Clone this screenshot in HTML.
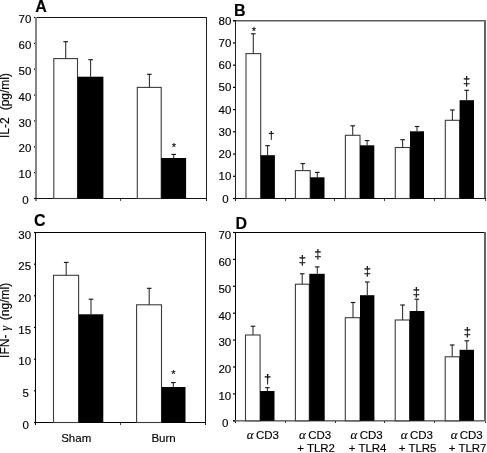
<!DOCTYPE html>
<html><head><meta charset="utf-8"><style>
html,body{margin:0;padding:0;background:#fff;width:487px;height:453px;overflow:hidden}
svg{display:block;will-change:transform}
text{font-family:"Liberation Sans", sans-serif;fill:#000;stroke:#000;stroke-width:0.15px}
</style></head><body>
<svg width="487" height="453" viewBox="0 0 487 453">
<rect x="34" y="17" width="173" height="1" fill="#111"/>
<rect x="35" y="17" width="2" height="184" fill="#858585"/>
<rect x="206" y="17" width="1" height="184" fill="#222"/>
<rect x="34" y="198" width="173" height="1" fill="#111"/>
<rect x="34" y="197.90" width="1" height="1.2" fill="#000"/>
<rect x="34" y="172.04" width="1" height="1.2" fill="#000"/>
<rect x="34" y="146.19" width="1" height="1.2" fill="#000"/>
<rect x="34" y="120.33" width="1" height="1.2" fill="#000"/>
<rect x="34" y="94.47" width="1" height="1.2" fill="#000"/>
<rect x="34" y="68.61" width="1" height="1.2" fill="#000"/>
<rect x="34" y="42.76" width="1" height="1.2" fill="#000"/>
<rect x="34" y="16.90" width="1" height="1.2" fill="#000"/>
<rect x="120" y="199" width="1" height="2" fill="#555"/>
<text x="28.7" y="204.1" font-size="11.5" font-weight="normal" text-anchor="end" >0</text>
<text x="31.3" y="178.24" font-size="11.5" font-weight="normal" text-anchor="end" >10</text>
<text x="31.3" y="152.39" font-size="11.5" font-weight="normal" text-anchor="end" >20</text>
<text x="31.3" y="126.53" font-size="11.5" font-weight="normal" text-anchor="end" >30</text>
<text x="31.3" y="100.67" font-size="11.5" font-weight="normal" text-anchor="end" >40</text>
<text x="31.3" y="74.81" font-size="11.5" font-weight="normal" text-anchor="end" >50</text>
<text x="31.3" y="48.96" font-size="11.5" font-weight="normal" text-anchor="end" >60</text>
<text x="31.3" y="23.1" font-size="11.5" font-weight="normal" text-anchor="end" >70</text>
<rect x="53.80" y="58.60" width="23.70" height="139.90" fill="#fff" stroke="#3c3c3c" stroke-width="1.1"/>
<rect x="65.15" y="41.70" width="1.1" height="16.90" fill="#333"/>
<rect x="63.40" y="41.15" width="4.6" height="1.1" fill="#111"/>
<rect x="77.50" y="76.70" width="25.90" height="121.80" fill="#000"/>
<rect x="90.05" y="59.70" width="1.1" height="17.00" fill="#333"/>
<rect x="88.30" y="59.15" width="4.6" height="1.1" fill="#111"/>
<rect x="137.30" y="87.40" width="23.90" height="111.10" fill="#fff" stroke="#3c3c3c" stroke-width="1.1"/>
<rect x="148.85" y="74.30" width="1.1" height="13.10" fill="#333"/>
<rect x="147.10" y="73.75" width="4.6" height="1.1" fill="#111"/>
<rect x="161.20" y="158.00" width="24.90" height="40.50" fill="#000"/>
<rect x="173.15" y="154.40" width="1.1" height="3.60" fill="#333"/>
<rect x="171.40" y="153.85" width="4.6" height="1.1" fill="#111"/>
<rect x="233" y="20.2" width="253" height="1.2" fill="#333"/>
<rect x="235" y="20" width="1" height="181" fill="#222"/>
<rect x="484" y="20" width="2" height="179" fill="#666"/>
<rect x="485" y="198" width="1" height="3" fill="#444"/>
<rect x="233" y="198" width="253" height="1" fill="#111"/>
<rect x="233" y="197.90" width="2" height="1.2" fill="#000"/>
<rect x="233" y="175.68" width="2" height="1.2" fill="#000"/>
<rect x="233" y="153.45" width="2" height="1.2" fill="#000"/>
<rect x="233" y="131.22" width="2" height="1.2" fill="#000"/>
<rect x="233" y="109.00" width="2" height="1.2" fill="#000"/>
<rect x="233" y="86.78" width="2" height="1.2" fill="#000"/>
<rect x="233" y="64.55" width="2" height="1.2" fill="#000"/>
<rect x="233" y="42.32" width="2" height="1.2" fill="#000"/>
<rect x="233" y="20.10" width="2" height="1.2" fill="#000"/>
<rect x="285" y="199" width="1" height="2" fill="#444"/>
<rect x="334" y="199" width="1" height="2" fill="#444"/>
<rect x="384" y="199" width="1" height="2" fill="#444"/>
<rect x="434" y="199" width="1" height="2" fill="#444"/>
<text x="228.7" y="202.6" font-size="11.5" font-weight="normal" text-anchor="end" >0</text>
<text x="231.4" y="180.38" font-size="11.5" font-weight="normal" text-anchor="end" >10</text>
<text x="231.4" y="158.15" font-size="11.5" font-weight="normal" text-anchor="end" >20</text>
<text x="231.4" y="135.92" font-size="11.5" font-weight="normal" text-anchor="end" >30</text>
<text x="231.4" y="113.7" font-size="11.5" font-weight="normal" text-anchor="end" >40</text>
<text x="231.4" y="91.47" font-size="11.5" font-weight="normal" text-anchor="end" >50</text>
<text x="231.4" y="69.25" font-size="11.5" font-weight="normal" text-anchor="end" >60</text>
<text x="231.4" y="47.03" font-size="11.5" font-weight="normal" text-anchor="end" >70</text>
<text x="231.4" y="24.8" font-size="11.5" font-weight="normal" text-anchor="end" >80</text>
<rect x="246.00" y="53.60" width="14.70" height="144.90" fill="#fff" stroke="#3c3c3c" stroke-width="1.1"/>
<rect x="252.75" y="33.80" width="1.1" height="19.80" fill="#333"/>
<rect x="251.00" y="33.25" width="4.6" height="1.1" fill="#111"/>
<rect x="260.70" y="155.20" width="14.20" height="43.30" fill="#000"/>
<rect x="267.05" y="145.70" width="1.1" height="9.50" fill="#333"/>
<rect x="265.30" y="145.15" width="4.6" height="1.1" fill="#111"/>
<rect x="295.40" y="170.60" width="14.80" height="27.90" fill="#fff" stroke="#3c3c3c" stroke-width="1.1"/>
<rect x="302.25" y="163.60" width="1.1" height="7.00" fill="#333"/>
<rect x="300.50" y="163.05" width="4.6" height="1.1" fill="#111"/>
<rect x="310.20" y="177.30" width="14.30" height="21.20" fill="#000"/>
<rect x="316.75" y="172.40" width="1.1" height="4.90" fill="#333"/>
<rect x="315.00" y="171.85" width="4.6" height="1.1" fill="#111"/>
<rect x="345.40" y="135.30" width="14.60" height="63.20" fill="#fff" stroke="#3c3c3c" stroke-width="1.1"/>
<rect x="352.15" y="125.80" width="1.1" height="9.50" fill="#333"/>
<rect x="350.40" y="125.25" width="4.6" height="1.1" fill="#111"/>
<rect x="360.00" y="145.30" width="14.30" height="53.20" fill="#000"/>
<rect x="366.55" y="140.60" width="1.1" height="4.70" fill="#333"/>
<rect x="364.80" y="140.05" width="4.6" height="1.1" fill="#111"/>
<rect x="395.30" y="147.50" width="14.70" height="51.00" fill="#fff" stroke="#3c3c3c" stroke-width="1.1"/>
<rect x="402.05" y="139.70" width="1.1" height="7.80" fill="#333"/>
<rect x="400.30" y="139.15" width="4.6" height="1.1" fill="#111"/>
<rect x="410.00" y="131.30" width="14.00" height="67.20" fill="#000"/>
<rect x="416.45" y="126.50" width="1.1" height="4.80" fill="#333"/>
<rect x="414.70" y="125.95" width="4.6" height="1.1" fill="#111"/>
<rect x="445.30" y="120.30" width="14.30" height="78.20" fill="#fff" stroke="#3c3c3c" stroke-width="1.1"/>
<rect x="451.85" y="110.00" width="1.1" height="10.30" fill="#333"/>
<rect x="450.10" y="109.45" width="4.6" height="1.1" fill="#111"/>
<rect x="459.60" y="100.20" width="14.40" height="98.30" fill="#000"/>
<rect x="466.05" y="90.30" width="1.1" height="9.90" fill="#333"/>
<rect x="464.30" y="89.75" width="4.6" height="1.1" fill="#111"/>
<rect x="34" y="232" width="172" height="1" fill="#000"/>
<rect x="35" y="232" width="1" height="193" fill="#000"/>
<rect x="205" y="232" width="1" height="193" fill="#111"/>
<rect x="34" y="422" width="172" height="1" fill="#000"/>
<rect x="34" y="421.90" width="1" height="1.2" fill="#000"/>
<rect x="34" y="390.23" width="1" height="1.2" fill="#000"/>
<rect x="34" y="358.57" width="1" height="1.2" fill="#000"/>
<rect x="34" y="326.90" width="1" height="1.2" fill="#000"/>
<rect x="34" y="295.23" width="1" height="1.2" fill="#000"/>
<rect x="34" y="263.57" width="1" height="1.2" fill="#000"/>
<rect x="34" y="231.90" width="1" height="1.2" fill="#000"/>
<rect x="120" y="423" width="1" height="2" fill="#444"/>
<text x="28.9" y="428.8" font-size="11.5" font-weight="normal" text-anchor="end" >0</text>
<text x="28.9" y="397.13" font-size="11.5" font-weight="normal" text-anchor="end" >5</text>
<text x="31.1" y="365.47" font-size="11.5" font-weight="normal" text-anchor="end" >10</text>
<text x="31.1" y="333.8" font-size="11.5" font-weight="normal" text-anchor="end" >15</text>
<text x="31.1" y="302.13" font-size="11.5" font-weight="normal" text-anchor="end" >20</text>
<text x="31.1" y="270.47" font-size="11.5" font-weight="normal" text-anchor="end" >25</text>
<text x="31.1" y="238.8" font-size="11.5" font-weight="normal" text-anchor="end" >30</text>
<rect x="53.50" y="275.30" width="25.10" height="147.20" fill="#fff" stroke="#3c3c3c" stroke-width="1.1"/>
<rect x="65.65" y="262.40" width="1.1" height="12.90" fill="#333"/>
<rect x="63.90" y="261.85" width="4.6" height="1.1" fill="#111"/>
<rect x="78.60" y="314.30" width="24.70" height="108.20" fill="#000"/>
<rect x="90.45" y="299.20" width="1.1" height="15.10" fill="#333"/>
<rect x="88.70" y="298.65" width="4.6" height="1.1" fill="#111"/>
<rect x="136.60" y="304.80" width="24.90" height="117.70" fill="#fff" stroke="#3c3c3c" stroke-width="1.1"/>
<rect x="148.65" y="288.30" width="1.1" height="16.50" fill="#333"/>
<rect x="146.90" y="287.75" width="4.6" height="1.1" fill="#111"/>
<rect x="161.50" y="387.00" width="24.00" height="35.50" fill="#000"/>
<rect x="172.75" y="382.60" width="1.1" height="4.40" fill="#333"/>
<rect x="171.00" y="382.05" width="4.6" height="1.1" fill="#111"/>
<rect x="233" y="232" width="253" height="1" fill="#000"/>
<rect x="235" y="232" width="1" height="191" fill="#000"/>
<rect x="484" y="232" width="2" height="189" fill="#666"/>
<rect x="485" y="420" width="1" height="3" fill="#333"/>
<rect x="233" y="420" width="253" height="1.6" fill="#707070"/>
<rect x="233" y="420.20" width="2" height="1.2" fill="#000"/>
<rect x="233" y="393.30" width="2" height="1.2" fill="#000"/>
<rect x="233" y="366.40" width="2" height="1.2" fill="#000"/>
<rect x="233" y="339.50" width="2" height="1.2" fill="#000"/>
<rect x="233" y="312.60" width="2" height="1.2" fill="#000"/>
<rect x="233" y="285.70" width="2" height="1.2" fill="#000"/>
<rect x="233" y="258.80" width="2" height="1.2" fill="#000"/>
<rect x="233" y="231.90" width="2" height="1.2" fill="#000"/>
<rect x="285" y="421" width="1" height="2" fill="#333"/>
<rect x="335" y="421" width="1" height="2" fill="#333"/>
<rect x="384" y="421" width="1" height="2" fill="#333"/>
<rect x="434" y="421" width="1" height="2" fill="#333"/>
<text x="228.5" y="427.1" font-size="11.5" font-weight="normal" text-anchor="end" >0</text>
<text x="231.2" y="400.2" font-size="11.5" font-weight="normal" text-anchor="end" >10</text>
<text x="231.2" y="373.3" font-size="11.5" font-weight="normal" text-anchor="end" >20</text>
<text x="231.2" y="346.4" font-size="11.5" font-weight="normal" text-anchor="end" >30</text>
<text x="231.2" y="319.5" font-size="11.5" font-weight="normal" text-anchor="end" >40</text>
<text x="231.2" y="292.6" font-size="11.5" font-weight="normal" text-anchor="end" >50</text>
<text x="231.2" y="265.7" font-size="11.5" font-weight="normal" text-anchor="end" >60</text>
<text x="231.2" y="238.8" font-size="11.5" font-weight="normal" text-anchor="end" >70</text>
<rect x="245.50" y="335.00" width="14.60" height="85.80" fill="#fff" stroke="#3c3c3c" stroke-width="1.1"/>
<rect x="252.45" y="326.20" width="1.1" height="8.80" fill="#333"/>
<rect x="250.70" y="325.65" width="4.6" height="1.1" fill="#111"/>
<rect x="260.10" y="391.00" width="14.40" height="29.80" fill="#000"/>
<rect x="266.85" y="387.70" width="1.1" height="3.30" fill="#333"/>
<rect x="265.10" y="387.15" width="4.6" height="1.1" fill="#111"/>
<rect x="295.40" y="284.20" width="13.90" height="136.60" fill="#fff" stroke="#3c3c3c" stroke-width="1.1"/>
<rect x="301.65" y="273.80" width="1.1" height="10.40" fill="#333"/>
<rect x="299.90" y="273.25" width="4.6" height="1.1" fill="#111"/>
<rect x="309.30" y="273.80" width="15.40" height="147.00" fill="#000"/>
<rect x="316.75" y="266.90" width="1.1" height="6.90" fill="#333"/>
<rect x="315.00" y="266.35" width="4.6" height="1.1" fill="#111"/>
<rect x="345.30" y="317.70" width="14.70" height="103.10" fill="#fff" stroke="#3c3c3c" stroke-width="1.1"/>
<rect x="352.45" y="302.50" width="1.1" height="15.20" fill="#333"/>
<rect x="350.70" y="301.95" width="4.6" height="1.1" fill="#111"/>
<rect x="360.00" y="295.20" width="14.40" height="125.60" fill="#000"/>
<rect x="366.75" y="282.00" width="1.1" height="13.20" fill="#333"/>
<rect x="365.00" y="281.45" width="4.6" height="1.1" fill="#111"/>
<rect x="395.20" y="320.00" width="14.40" height="100.80" fill="#fff" stroke="#3c3c3c" stroke-width="1.1"/>
<rect x="402.05" y="305.00" width="1.1" height="15.00" fill="#333"/>
<rect x="400.30" y="304.45" width="4.6" height="1.1" fill="#111"/>
<rect x="409.60" y="311.00" width="14.80" height="109.80" fill="#000"/>
<rect x="416.25" y="299.20" width="1.1" height="11.80" fill="#333"/>
<rect x="414.50" y="298.65" width="4.6" height="1.1" fill="#111"/>
<rect x="445.20" y="356.80" width="14.40" height="64.00" fill="#fff" stroke="#3c3c3c" stroke-width="1.1"/>
<rect x="451.65" y="345.00" width="1.1" height="11.80" fill="#333"/>
<rect x="449.90" y="344.45" width="4.6" height="1.1" fill="#111"/>
<rect x="459.60" y="349.80" width="14.40" height="71.00" fill="#000"/>
<rect x="466.25" y="340.80" width="1.1" height="9.00" fill="#333"/>
<rect x="464.50" y="340.25" width="4.6" height="1.1" fill="#111"/>
<text x="35.3" y="11.6" font-size="16" font-weight="bold" text-anchor="start" >A</text>
<text x="234.0" y="15.9" font-size="16" font-weight="bold" text-anchor="start" >B</text>
<text x="33.9" y="226.3" font-size="16" font-weight="bold" text-anchor="start" >C</text>
<text x="235.6" y="228.7" font-size="16" font-weight="bold" text-anchor="start" >D</text>
<text x="253.9" y="35.2" font-size="11" font-weight="normal" text-anchor="middle" >*</text>
<text x="173.9" y="150.6" font-size="11" font-weight="normal" text-anchor="middle" >*</text>
<text x="173.4" y="378.2" font-size="11" font-weight="normal" text-anchor="middle" >*</text>
<text x="271.4" y="139.1" font-size="11" font-weight="normal" text-anchor="middle" >†</text>
<text x="267.6" y="383.07" font-size="13" font-weight="normal" text-anchor="middle" >†</text>
<text x="466.5" y="85.07" font-size="13" font-weight="normal" text-anchor="middle" >‡</text>
<text x="302.45" y="264.42" font-size="13" font-weight="normal" text-anchor="middle" >‡</text>
<text x="317.85" y="258.27" font-size="13" font-weight="normal" text-anchor="middle" >‡</text>
<text x="367.3" y="275.42" font-size="13" font-weight="normal" text-anchor="middle" >‡</text>
<text x="416.4" y="295.77" font-size="13" font-weight="normal" text-anchor="middle" >‡</text>
<text x="467.3" y="336.17" font-size="13" font-weight="normal" text-anchor="middle" >‡</text>
<text x="76.2" y="442.1" font-size="11.5" font-weight="normal" text-anchor="middle" >Sham</text>
<text x="163.6" y="442.1" font-size="11.5" font-weight="normal" text-anchor="middle" >Burn</text>
<text x="262.9" y="438.6" font-size="11.5" font-weight="normal" text-anchor="middle" ><tspan font-family="Liberation Serif" font-style="italic" font-size="13" style="font-family:Liberation Serif">α</tspan> CD3</text>
<text x="315.1" y="438.6" font-size="11.5" font-weight="normal" text-anchor="middle" ><tspan font-family="Liberation Serif" font-style="italic" font-size="13" style="font-family:Liberation Serif">α</tspan> CD3</text>
<text x="316.1" y="452.1" font-size="11.5" font-weight="normal" text-anchor="middle" >+ TLR2</text>
<text x="366.6" y="438.6" font-size="11.5" font-weight="normal" text-anchor="middle" ><tspan font-family="Liberation Serif" font-style="italic" font-size="13" style="font-family:Liberation Serif">α</tspan> CD3</text>
<text x="367.6" y="452.1" font-size="11.5" font-weight="normal" text-anchor="middle" >+ TLR4</text>
<text x="416.9" y="438.6" font-size="11.5" font-weight="normal" text-anchor="middle" ><tspan font-family="Liberation Serif" font-style="italic" font-size="13" style="font-family:Liberation Serif">α</tspan> CD3</text>
<text x="417.6" y="452.1" font-size="11.5" font-weight="normal" text-anchor="middle" >+ TLR5</text>
<text x="466.7" y="438.6" font-size="11.5" font-weight="normal" text-anchor="middle" ><tspan font-family="Liberation Serif" font-style="italic" font-size="13" style="font-family:Liberation Serif">α</tspan> CD3</text>
<text x="467.6" y="452.1" font-size="11.5" font-weight="normal" text-anchor="middle" >+ TLR7</text>
<text x="-138.0" y="0" font-size="12" text-anchor="start" transform="translate(8.9,0) rotate(-90)" >IL-2</text>
<text x="-73.0" y="0" font-size="12" text-anchor="end" transform="translate(8.9,0) rotate(-90)" >(pg/ml)</text>
<text x="-357.9" y="0" font-size="12" text-anchor="start" transform="translate(8.8,0) rotate(-90)" >IFN-</text>
<text x="-328.4" y="0" font-size="12.5" text-anchor="middle" transform="translate(8.8,0) rotate(-90)" font-family="Liberation Serif" font-style="italic" style="font-family:Liberation Serif">γ</text>
<text x="-282.8" y="0" font-size="12" text-anchor="end" transform="translate(8.8,0) rotate(-90)" >(ng/ml)</text>
</svg>
</body></html>
